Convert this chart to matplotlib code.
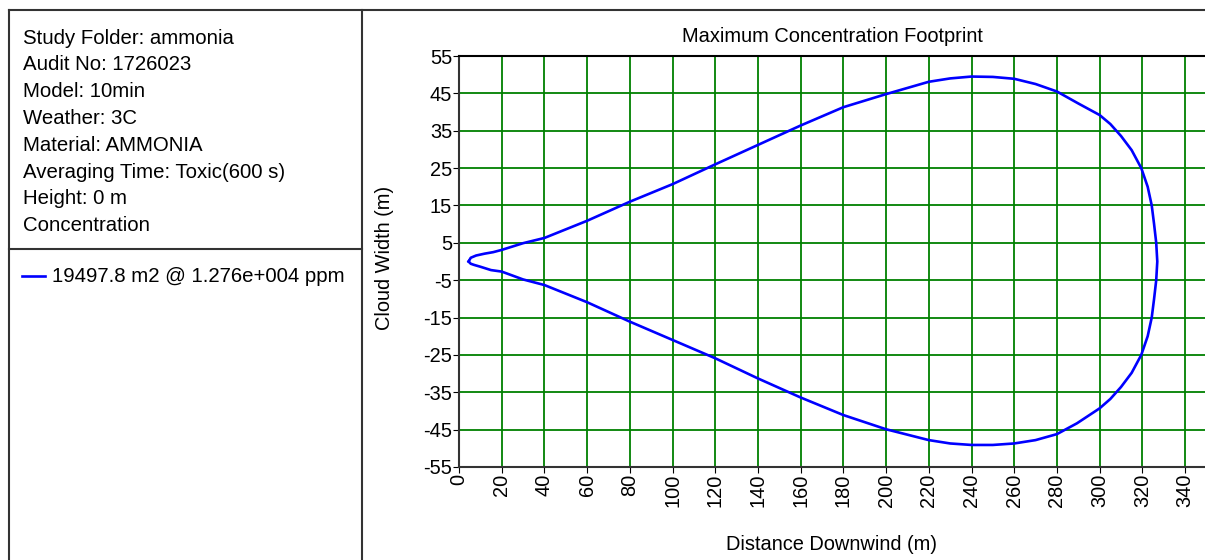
import matplotlib.pyplot as plt
import matplotlib.ticker as ticker
from matplotlib.lines import Line2D

plt.rcParams['font.family'] = ['Liberation Sans', 'DejaVu Sans']
plt.rcParams['axes.unicode_minus'] = False

info_lines = ['Study Folder: ammonia', 'Audit No: 1726023', 'Model: 10min',
              'Weather: 3C', 'Material: AMMONIA', 'Averaging Time: Toxic(600 s)',
              'Height: 0 m', 'Concentration']
legend_label = '19497.8 m2 @ 1.276e+004 ppm'

# footprint outline: upper edge left->right, lower edge right->left
upper_x = [4.5, 5.5, 8, 12, 16, 20, 30, 40, 60, 80, 100, 120, 140, 160, 180, 200, 220,
           230, 240, 250, 260, 270, 280, 290, 300, 305, 310, 315, 319.5, 322.5, 324.4,
           325.5, 326.5, 327]
upper_y = [0, 1.0, 1.6, 2.1, 2.5, 3.1, 4.9, 6.3, 10.9, 16.0, 20.7, 26.0, 31.2, 36.4,
           41.3, 44.8, 48.1, 49.0, 49.5, 49.4, 48.9, 47.5, 45.5, 42.3, 39.2, 36.8, 33.6,
           29.8, 25, 20, 15, 10, 5, 0]
lower_x = [326.5, 325.5, 324.4, 322.5, 319.5, 315, 310, 305, 300, 289.4, 280, 270, 260,
           250, 240, 230, 220, 200, 180, 160, 140, 120, 100, 80, 60, 40, 30, 20, 15, 10,
           7, 5.5, 4.5]
lower_y = [-5, -10, -15, -20, -25, -29.8, -33.6, -36.8, -39.3, -43.3, -46.2, -47.8,
           -48.7, -49.1, -49.1, -48.7, -47.8, -44.9, -41.1, -36.4, -31.3, -25.9, -21.0,
           -16.1, -10.9, -6.3, -4.8, -2.7, -2.3, -1.4, -0.9, -0.6, 0]

x_ticks = list(range(0, 341, 20))
y_ticks = list(range(-55, 56, 10))

W, H = 1205, 560
fs = 14.4
fig = plt.figure(figsize=(W / 100, H / 100), dpi=100)

# chart area
ax = fig.add_axes([459 / W, 1 - 467 / H, 747.4 / W, 411 / H])
ax.plot(upper_x + lower_x, upper_y + lower_y, color='#0000ff', linewidth=1.9)
ax.set_xlim(0, 350)
ax.set_ylim(-55, 55)
ax.set_xticks(x_ticks)
ax.set_yticks(y_ticks)
ax.xaxis.set_major_formatter(ticker.FormatStrFormatter('%d'))
ax.tick_params(axis='x', labelrotation=90, labelsize=fs, length=4, pad=1)
ax.tick_params(axis='y', labelsize=fs, length=4, pad=1)
ax.grid(True, color='#008000', linewidth=1.3)
ax.set_axisbelow(True)
for side in ['left', 'bottom']:
    ax.spines[side].set_color('#333333')
    ax.spines[side].set_linewidth(1.5)
ax.spines['top'].set_color('black')
ax.spines['top'].set_linewidth(1.5)
ax.spines['right'].set_visible(False)

fig.text(832 / W, 1 - 36 / H, 'Maximum Concentration Footprint', fontsize=fs,
         ha='center', va='center')
fig.text(832 / W, 1 - 544 / H, 'Distance Downwind (m)', fontsize=fs,
         ha='center', va='center')
fig.text(385 / W, 1 - 258 / H, 'Cloud Width (m)', fontsize=fs, rotation=90,
         ha='center', va='center')

# left info panel
frame = dict(color='#333333', linewidth=1.5, transform=fig.transFigure)
fig.add_artist(Line2D([9 / W, 1.0], [1 - 10 / H, 1 - 10 / H], **frame))
fig.add_artist(Line2D([9 / W, 9 / W], [0, 1 - 10 / H], **frame))
fig.add_artist(Line2D([362 / W, 362 / W], [0, 1 - 10 / H], **frame))
fig.add_artist(Line2D([9 / W, 362 / W], [1 - 249 / H, 1 - 249 / H], **frame))

for i, line in enumerate(info_lines):
    fig.text(23 / W, 1 - (38 + i * 26.8) / H, line, fontsize=14.7, ha='left', va='center')

fig.add_artist(Line2D([22 / W, 45 / W], [1 - 276 / H, 1 - 276 / H], color='#0000ff',
                      linewidth=1.9, transform=fig.transFigure))
fig.text(52 / W, 1 - 277 / H, legend_label, fontsize=14.7, ha='left', va='center')

fig.savefig('out.png', dpi=100)
